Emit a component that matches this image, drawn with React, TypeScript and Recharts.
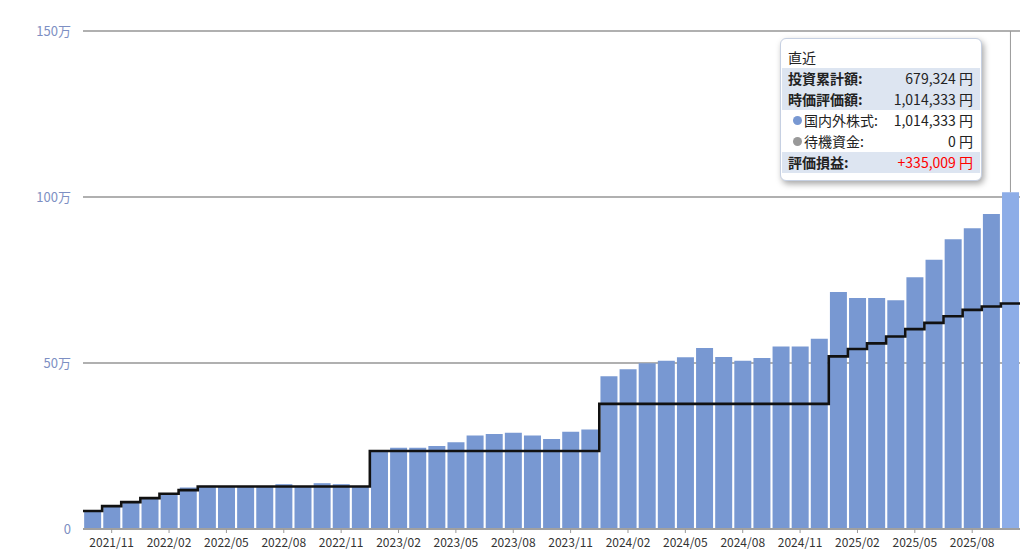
import React from 'react';
import {
  ComposedChart,
  Bar,
  Cell,
  Line,
  XAxis,
  YAxis,
  CartesianGrid,
  Tooltip,
  ReferenceLine,
} from 'recharts';

// month of each bar
const months = [
  '2021/10', '2021/11', '2021/12',
  '2022/01', '2022/02', '2022/03', '2022/04', '2022/05', '2022/06',
  '2022/07', '2022/08', '2022/09', '2022/10', '2022/11', '2022/12',
  '2023/01', '2023/02', '2023/03', '2023/04', '2023/05', '2023/06',
  '2023/07', '2023/08', '2023/09', '2023/10', '2023/11', '2023/12',
  '2024/01', '2024/02', '2024/03', '2024/04', '2024/05', '2024/06',
  '2024/07', '2024/08', '2024/09', '2024/10', '2024/11', '2024/12',
  '2025/01', '2025/02', '2025/03', '2025/04', '2025/05', '2025/06',
  '2025/07', '2025/08', '2025/09', '2025/10',
];

// 時価評価額 (yen)
const marketValue = [
  56000, 70000, 84000, 94000, 108000, 125000, 130000, 127000, 127000, 128000,
  135000, 128000, 138000, 135000, 128000, 238000, 245000, 245000, 250000, 261000,
  282000, 286000, 290000, 282000, 271000, 293000, 300000, 460000, 481000, 499000,
  507000, 517000, 545000, 518000, 507000, 515000, 550000, 550000, 573000, 714000,
  696000, 696000, 689000, 758000, 811000, 873000, 906000, 949000, 1014333,
];

// 投資累計額 (yen)
const invested = [
  54000, 69000, 81000, 93000, 106000, 117000, 128000, 128000, 128000, 128000,
  128000, 128000, 128000, 128000, 128000, 235000, 235000, 235000, 235000, 235000,
  235000, 235000, 235000, 235000, 235000, 235000, 235000, 377000, 377000, 377000,
  377000, 377000, 377000, 377000, 377000, 377000, 377000, 377000, 377000, 520000,
  542000, 559000, 580000, 602000, 621000, 641000, 660000, 670000, 679324,
];

const standbyCash = 0;

const tickMonths = [
  '2021/11', '2022/02', '2022/05', '2022/08', '2022/11',
  '2023/02', '2023/05', '2023/08', '2023/11',
  '2024/02', '2024/05', '2024/08', '2024/11',
  '2025/02', '2025/05', '2025/08',
];

const yTicks = [0, 500000, 1000000, 1500000];

const BAR_COLOR = '#7898d2';
const BAR_ACTIVE = '#8dade7';
const BAND = '#dde5f1';
const FONT = "'Noto Sans CJK JP', 'Noto Sans', sans-serif";

const chartData = months.map((month, i) => ({ month, value: marketValue[i] }));

// step line spans whole slots, so it needs a closing point at the right edge
const lineData = invested
  .map((v, i) => ({ slot: i, invested: v }))
  .concat([{ slot: months.length, invested: invested[invested.length - 1] }]);

const lastIndex = months.length - 1;

const yen = (v: number) => String(v).replace(/\B(?=(\d{3})+(?!\d))/g, ',');

const formatMan = (v: number) => (v === 0 ? '0' : `${v / 10000}万`);

type RowProps = {
  label: string;
  value: string;
  band?: boolean;
  bold?: boolean;
  dot?: string;
  valueColor?: string;
};

function Row({ label, value, band, bold, dot, valueColor }: RowProps) {
  return (
    <div
      style={{
        height: 21,
        lineHeight: '21px',
        display: 'flex',
        justifyContent: 'space-between',
        alignItems: 'center',
        background: band ? BAND : 'transparent',
        padding: dot ? '0 7px 0 11px' : '0 7px 0 6px',
        whiteSpace: 'nowrap',
      }}
    >
      <span style={{ display: 'flex', alignItems: 'center', fontWeight: bold ? 700 : 400 }}>
        {dot && (
          <span
            style={{
              display: 'inline-block',
              width: 9,
              height: 9,
              borderRadius: 5,
              background: dot,
              marginRight: 2,
            }}
          />
        )}
        {label}
      </span>
      <span style={{ color: valueColor || '#222' }}>{value}</span>
    </div>
  );
}

function SummaryBox({ label }: { label?: string }) {
  let i = months.indexOf(label as string);
  if (i < 0) i = lastIndex;
  const total = marketValue[i];
  const gain = total - invested[i];
  return (
    <div
      style={{
        width: 202,
        height: 143,
        boxSizing: 'border-box',
        border: '1px solid #c6d0e2',
        borderRadius: 6,
        background: '#fff',
        boxShadow: '2px 3px 6px rgba(0,0,0,0.35)',
        padding: '0 1px',
        fontFamily: FONT,
        fontSize: 14,
        color: '#222',
      }}
    >
      <div style={{ height: 29, paddingTop: 8, boxSizing: 'border-box', lineHeight: '20px', paddingLeft: 6 }}>
        直近
      </div>
      <Row label="投資累計額:" value={`${yen(invested[i])} 円`} band bold />
      <Row label="時価評価額:" value={`${yen(total)} 円`} band bold />
      <Row label="国内外株式:" value={`${yen(total - standbyCash)} 円`} dot={BAR_COLOR} />
      <Row label="待機資金:" value={`${yen(standbyCash)} 円`} dot="#999999" />
      <Row
        label="評価損益:"
        value={`${gain >= 0 ? '+' : ''}${yen(gain)} 円`}
        band
        bold
        valueColor="#ff0000"
      />
    </div>
  );
}

export default function App() {
  return (
    <div
      style={{
        position: 'absolute',
        left: 0,
        top: 0,
        width: 1024,
        height: 550,
        overflow: 'hidden',
        background: '#fff',
        fontFamily: FONT,
      }}
    >
      <ComposedChart
        width={1024}
        height={580}
        data={chartData}
        margin={{ top: 31, right: 4, left: 0, bottom: 21 }}
        barCategoryGap="6%"
      >
        <CartesianGrid vertical={false} stroke="#b0b0b0" strokeWidth={2} />
        <XAxis
          dataKey="month"
          ticks={tickMonths}
          interval={0}
          height={30}
          tick={{ fontSize: 12, fill: '#333', fontFamily: FONT }}
          tickLine={{ stroke: '#999' }}
          tickSize={4}
          tickMargin={5}
          axisLine={{ stroke: '#a0a0a0', strokeWidth: 2 }}
        />
        <XAxis
          xAxisId="slot"
          type="number"
          dataKey="slot"
          domain={[0, months.length]}
          allowDataOverflow
          hide
        />
        <YAxis
          width={83}
          domain={[0, 1500000]}
          ticks={yTicks}
          tickFormatter={formatMan}
          axisLine={false}
          tickLine={false}
          tickSize={4}
          tickMargin={8}
          tick={{ fontSize: 13, fill: '#7d8fc3', fontFamily: FONT }}
        />
        <ReferenceLine
          segment={[
            { x: months[lastIndex], y: 1500000 },
            { x: months[lastIndex], y: marketValue[lastIndex] },
          ]}
          stroke="#999"
          strokeWidth={1}
          ifOverflow="visible"
        />
        <Bar dataKey="value" fill={BAR_COLOR} activeBar={false} isAnimationActive={false}>
          {chartData.map((d, i) => (
            <Cell key={d.month} fill={i === lastIndex ? BAR_ACTIVE : BAR_COLOR} />
          ))}
        </Bar>
        <Line
          xAxisId="slot"
          data={lineData}
          dataKey="invested"
          type="stepAfter"
          stroke="#111"
          strokeWidth={2.6}
          dot={false}
          activeDot={false}
          isAnimationActive={false}
        />
        <Tooltip
          active
          defaultIndex={lastIndex}
          position={{ x: 780, y: 38 }}
          cursor={false}
          isAnimationActive={false}
          allowEscapeViewBox={{ x: true, y: true }}
          wrapperStyle={{ outline: 'none', zIndex: 10 }}
          content={(props: any) => <SummaryBox label={props.label} />}
        />
      </ComposedChart>
    </div>
  );
}
